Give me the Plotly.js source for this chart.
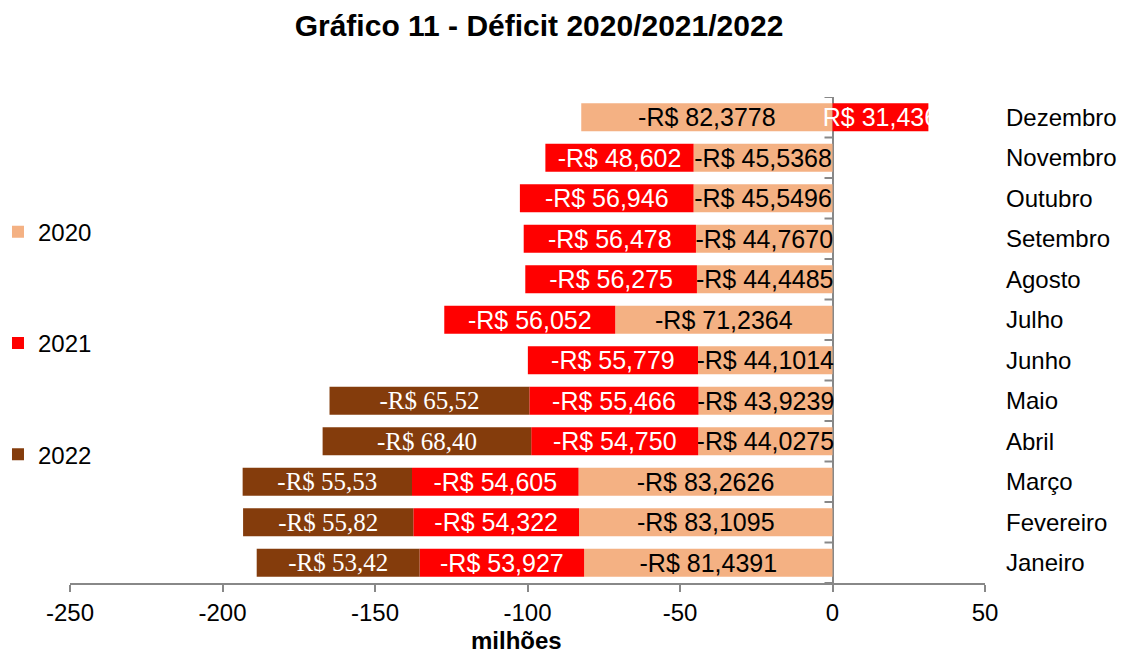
<!DOCTYPE html>
<html>
<head>
<meta charset="utf-8">
<script src="https://cdn.plot.ly/plotly-3.0.1.min.js"></script>
<style>html,body{margin:0;padding:0;background:#fff;}#chart{width:1129px;height:663px;}</style>
</head>
<body>
<div id="chart"></div>
<script>
const months = ["Janeiro","Fevereiro","Março","Abril","Maio","Junho","Julho","Agosto","Setembro","Outubro","Novembro","Dezembro"];
const v2020 = [-81.4391,-83.1095,-83.2626,-44.0275,-43.9239,-44.1014,-71.2364,-44.4485,-44.7670,-45.5496,-45.5368,-82.3778];
const v2021 = [-53.927,-54.322,-54.605,-54.750,-55.466,-55.779,-56.052,-56.275,-56.478,-56.946,-48.602,31.436];
const v2022 = [-53.42,-55.82,-55.53,-68.40,-65.52,null,null,null,null,null,null,null];
const seriesNames = ["2020","2021","2022"];
const colors = ["#F4B183","#FF0000","#843C0C"];
const xTickVals = [-250,-200,-150,-100,-50,0,50];
const xTickText = ["-250","-200","-150","-100","-50","0","50"];

function fmt(v, d){
  if (v === null) return "";
  const s = Math.abs(v).toFixed(d).replace(".", ",");
  return (v < 0 ? "-R$ " : "R$ ") + s;
}

const SANS = "Liberation Sans, Arial, sans-serif";
const SERIF = "Liberation Serif, Times New Roman, serif";

const traces = [
  {name: seriesNames[0], x: v2020, text: v2020.map(v=>fmt(v,4)), color: colors[0], font: {family: SANS, size: 25, color: "#000"}},
  {name: seriesNames[1], x: v2021, text: v2021.map(v=>fmt(v,3)), color: colors[1], font: {family: SANS, size: 25, color: "#fff"}},
  {name: seriesNames[2], x: v2022, text: v2022.map(v=>fmt(v,2)), color: colors[2], font: {family: SERIF, size: 25, color: "#fff"}}
].map((t, i) => ({
  type: "bar",
  orientation: "h",
  name: t.name,
  legendgroup: "g" + i,
  y: months,
  x: t.x,
  text: t.text,
  textposition: "inside",
  insidetextanchor: "middle",
  constraintext: "none",
  textangle: 0,
  textfont: t.font,
  marker: {color: t.color},
  hoverinfo: "skip"
}));

// small category ticks on the zero line
const shapes = [];
for (let i = 0; i <= months.length; i++) {
  shapes.push({type: "line", xref: "x", yref: "y", xsizemode: "pixel", xanchor: 0,
    x0: -8, x1: 0, y0: i - 0.5, y1: i - 0.5, line: {color: "#888", width: 2}});
}

const layout = {
  width: 1129, height: 663,
  paper_bgcolor: "#fff", plot_bgcolor: "#fff",
  margin: {l: 70, r: 144, t: 97, b: 80, autoexpand: false},
  barmode: "relative",
  bargap: 0.31,
  font: {family: SANS, size: 24, color: "#000"},
  title: {text: "<b>Gráfico 11 - Déficit 2020/2021/2022</b>", font: {family: SANS, size: 30, color: "#000"},
    x: 539/1129, xref: "container", xanchor: "center", y: 1 - 25/663, yref: "container", yanchor: "middle"},
  xaxis: {range: [-250, 50], tickvals: xTickVals, ticktext: xTickText, showgrid: false, automargin: false,
    zeroline: true, zerolinecolor: "#888", zerolinewidth: 2,
    showline: true, linecolor: "#888", linewidth: 2,
    ticks: "outside", ticklen: 7, tickcolor: "#888", tickwidth: 2,
    tickfont: {family: SANS, size: 24, color: "#000"}},
  yaxis: {type: "category", categoryorder: "array", categoryarray: months, range: [-0.5, 11.5],
    side: "right", showgrid: false, zeroline: false, showline: false, ticks: "", automargin: false,
    ticklabelstandoff: 20,
    tickfont: {family: SANS, size: 24, color: "#000"}},
  annotations: [{text: "<b>milhões</b>", xref: "paper", yref: "paper", x: (516 - 70) / 915, y: -(640 - 583) / 486,
    xanchor: "center", yanchor: "middle", showarrow: false, font: {family: SANS, size: 24, color: "#000"}}],
  showlegend: true,
  legend: {x: -0.0787, xanchor: "left", y: 0.768, yanchor: "top", traceorder: "grouped",
    tracegroupgap: 77, font: {family: SANS, size: 24, color: "#000"}, bgcolor: "rgba(0,0,0,0)"},
  shapes: shapes
};

Plotly.newPlot("chart", traces, layout, {displayModeBar: false, staticPlot: true});
</script>
</body>
</html>
